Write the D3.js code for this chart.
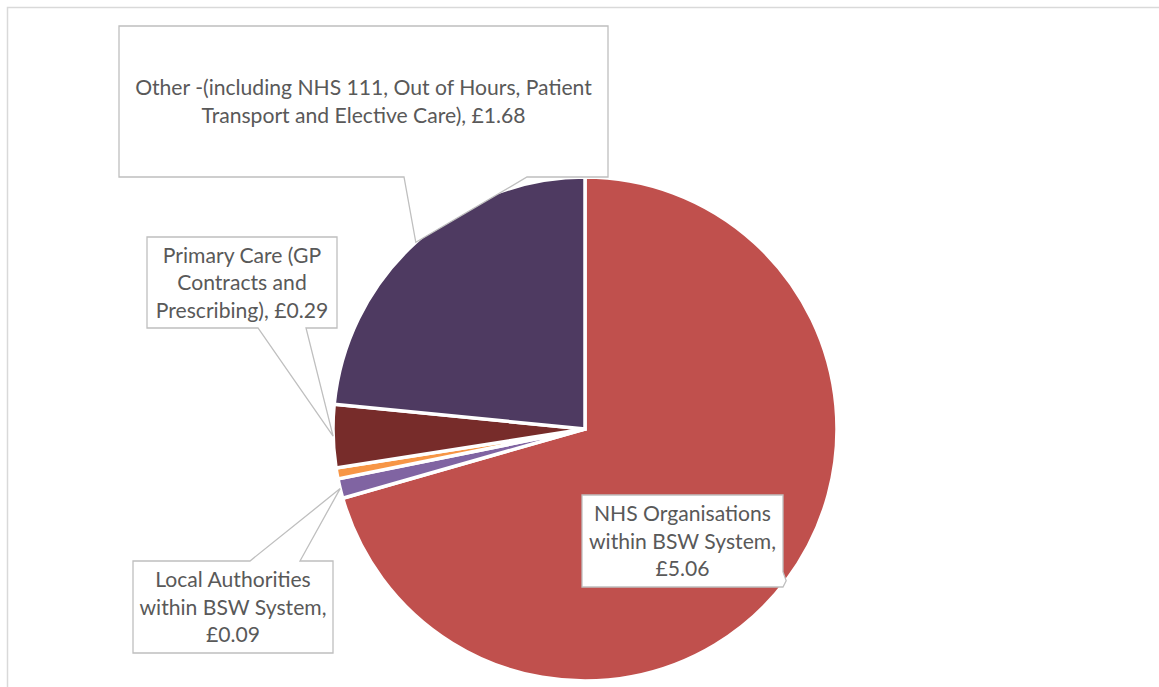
<!DOCTYPE html>
<html>
<head>
<meta charset="utf-8">
<script src="https://cdn.jsdelivr.net/npm/d3@7"></script>
<style>
  html, body { margin: 0; padding: 0; background: #ffffff; }
  svg { display: block; }
</style>
</head>
<body>
<svg id="chart" width="1159" height="687"></svg>
<script>
// ---- data ----
const categories = [
  "NHS Organisations within BSW System",
  "Local Authorities within BSW System",
  "Unlabelled",
  "Primary Care (GP Contracts and Prescribing)",
  "Other -(including NHS 111, Out of Hours, Patient Transport and Elective Care)"
];
const values = [5.06, 0.09, 0.05, 0.29, 1.68];
const colors = ["#c0504d", "#8064a2", "#f79646", "#772c2a", "#4e3a61"];
// label text lines; "{v}" is replaced with the slice value
const labelLines = [
  ["NHS Organisations", "within BSW System,", "£{v}"],
  ["Local Authorities", "within BSW System,", "£{v}"],
  null,
  ["Primary Care (GP", "Contracts and", "Prescribing), £{v}"],
  ["Other -(including NHS 111, Out of Hours, Patient", "Transport and Elective Care), £{v}"]
];

// ---- layout (positions / styles only) ----
const W = 1159, H = 687;
const cx = 585, cy = 429, R = 252;
// callout boxes: x, y, w, h, wedge side, wedge base positions along that side
const callouts = [
  {x: 582, y: 495, w: 201, h: 92, side: "right", b1: 77, b2: 92},
  {x: 133, y: 561, w: 200, h: 92, side: "top", b1: 117, b2: 167},
  null,
  {x: 147, y: 237, w: 190, h: 91, side: "bottom", b1: 111, b2: 159},
  {x: 119, y: 26, w: 489, h: 151, side: "bottom", b1: 285, b2: 408}
];
const fontFamily = "Lato, 'Open Sans', 'Noto Sans', sans-serif";
const textColor = "#595959";
const boxStroke = "#bfbfbf";
const lineHeight = 27.5;

const svg = d3.select("#chart");

// chart area border
svg.append("rect")
  .attr("x", 7.5).attr("y", 7.5)
  .attr("width", W + 20).attr("height", H + 20)
  .attr("fill", "#ffffff")
  .attr("stroke", "#d9d9d9").attr("stroke-width", 1.5);

// fit font size so the widest label line matches the reference width
const probe = svg.append("text").attr("font-family", fontFamily).attr("font-size", 100)
  .text(labelLines[4][0]);
const probeLen = probe.node().getComputedTextLength();
probe.remove();
const fontSize = Math.min(24, 457 / probeLen * 100);

const pie = d3.pie().sort(null).value(d => d)(values);
const arc = d3.arc().innerRadius(0).outerRadius(R);

const g = svg.append("g").attr("transform", `translate(${cx},${cy})`);
g.selectAll("path.slice")
  .data(pie)
  .join("path")
  .attr("class", "slice")
  .attr("d", arc)
  .attr("fill", (d, i) => colors[i])
  .attr("stroke", "#ffffff")
  .attr("stroke-width", 3.5)
  .attr("stroke-linejoin", "miter");

// callouts
pie.forEach((d, i) => {
  const c = callouts[i];
  if (!c || !labelLines[i]) return;
  const mid = (d.startAngle + d.endAngle) / 2;
  const tx = cx + Math.sin(mid) * R;
  const ty = cy - Math.cos(mid) * R;
  const x0 = c.x, y0 = c.y, x1 = c.x + c.w, y1 = c.y + c.h;
  let p;
  if (c.side === "bottom") {
    p = `M${x0},${y0}H${x1}V${y1}H${x0 + c.b2}L${tx},${ty}L${x0 + c.b1},${y1}H${x0}Z`;
  } else if (c.side === "top") {
    p = `M${x0},${y0}H${x0 + c.b1}L${tx},${ty}L${x0 + c.b2},${y0}H${x1}V${y1}H${x0}Z`;
  } else if (c.side === "right") {
    p = `M${x0},${y0}H${x1}V${y0 + c.b1}L${tx},${ty}L${x1},${y0 + c.b2}V${y1}H${x0}Z`;
  } else {
    p = `M${x0},${y0}H${x1}V${y1}H${x0}V${y0 + c.b2}L${tx},${ty}L${x0},${y0 + c.b1}Z`;
  }
  svg.append("path")
    .attr("d", p)
    .attr("fill", "#ffffff")
    .attr("stroke", boxStroke)
    .attr("stroke-width", 1.3)
    .attr("stroke-linejoin", "miter");

  const lines = labelLines[i].map(s => s.replace("{v}", values[i].toFixed(2)));
  const mx = c.x + c.w / 2, my = c.y + c.h / 2;
  const t = svg.append("text")
    .attr("font-family", fontFamily)
    .attr("font-size", fontSize)
    .attr("fill", textColor)
    .attr("text-anchor", "middle");
  lines.forEach((s, k) => {
    t.append("tspan")
      .attr("x", mx)
      .attr("y", my + (k - (lines.length - 1) / 2) * lineHeight + fontSize * 0.36)
      .text(s);
  });
});
</script>
</body>
</html>
